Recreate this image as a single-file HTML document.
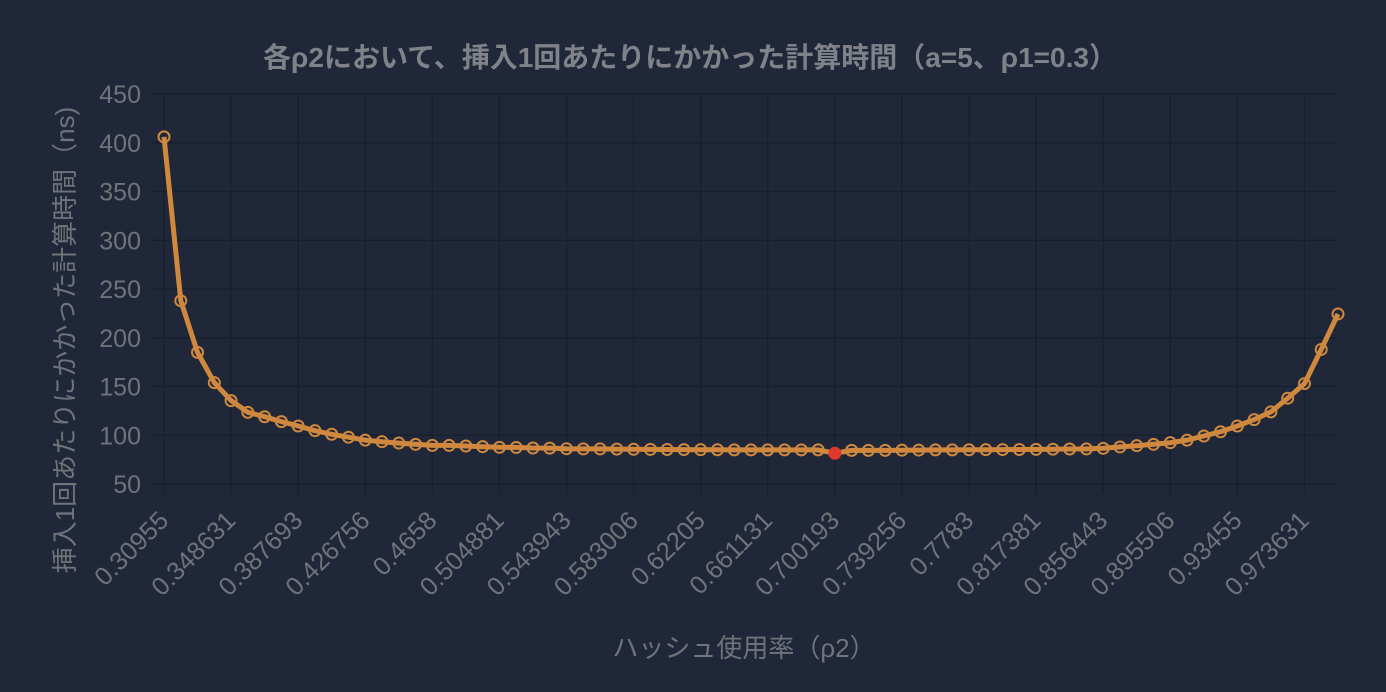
<!DOCTYPE html>
<html><head><meta charset="utf-8"><style>
html,body{margin:0;padding:0;background:#1f2738;}
svg{display:block;font-family:"Liberation Sans","Noto Sans CJK JP",sans-serif;}
</style></head><body>
<svg id="chart" width="1386" height="692">
<rect width="1386" height="692" fill="#1f2738"/>
<g id="grid"></g><g id="axes"></g><g id="series"></g>
<text x="690" y="67" text-anchor="middle" font-size="28" font-weight="bold" fill="#7f8288">各ρ2において、挿入1回あたりにかかった計算時間（a=5、ρ1=0.3）</text>
<text transform="translate(74,340) rotate(-90)" text-anchor="middle" font-size="26" fill="#6f737a">挿入1回あたりにかかった計算時間（ns)</text>
<text x="744" y="657" text-anchor="middle" font-size="26" fill="#6f737a">ハッシュ使用率（ρ2）</text>
</svg>
<script>
const values=[406,238,185,154,135.5,123.5,119,114,109.5,104.7,101,98,95,93.4,92,90.7,89.6,89.6,89,88.3,87.6,87.5,86.9,86.8,86.2,86,86,85.8,85.6,85.5,85.4,85.3,85.2,85.1,85,85,85,85,85,85,81.5,84.5,84.5,84.5,84.7,84.8,85,85,85.1,85.2,85.3,85.4,85.5,85.7,85.9,86,86.6,88,89.3,90.7,92.4,95,99.2,103.6,109.5,116,124,138,153,188,224.4];
const xLabels=["0.30955","0.348631","0.387693","0.426756","0.4658","0.504881","0.543943","0.583006","0.62205","0.661131","0.700193","0.739256","0.7783","0.817381","0.856443","0.895506","0.93455","0.973631"];
const labelEvery=4;
const yTicks=[50,100,150,200,250,300,350,400,450];
const highlightIndex=40;
const NS='http://www.w3.org/2000/svg';
const X0=164,X1=1338,Y0=484,Y1=94,YMIN=50,YMAX=450;
const x=i=>X0+(X1-X0)*i/(values.length-1);
const y=v=>Y0-(v-YMIN)/(YMAX-YMIN)*(Y0-Y1);
function mk(t,a,p){const e=document.createElementNS(NS,t);for(const k in a)e.setAttribute(k,a[k]);p.appendChild(e);return e;}
const grid=document.getElementById('grid'),axes=document.getElementById('axes'),ser=document.getElementById('series');
yTicks.forEach(t=>{
 const l=mk('line',{x1:150,x2:X1,y1:y(t),y2:y(t),stroke:'#182030','stroke-width':1.5},grid);
 
 
 const tx=mk('text',{x:141,y:y(t)+9,'text-anchor':'end','font-size':25,fill:'#6f737a'},axes);
 tx.textContent=t;
 
 
});
xLabels.forEach((lab,j)=>{
 const xi=x(j*labelEvery);
 const l=mk('line',{x1:xi,x2:xi,y1:Y1,y2:Y0+10,stroke:'#182030','stroke-width':1.5},grid);
 
 
 const tx=mk('text',{transform:`translate(${xi+6},${Y0+38}) rotate(-45)`,'text-anchor':'end','font-size':25.5,fill:'#6f737a'},axes);
 tx.textContent=lab;
 
 
});
const pts=values.map((v,i)=>x(i).toFixed(1)+','+y(v).toFixed(1)).join(' ');
const pl=mk('polyline',{points:pts,fill:'none',stroke:'#d0883e','stroke-width':5,'stroke-linejoin':'round'},ser);


values.forEach((v,i)=>{
 const hi=i===highlightIndex;
 const c=mk('circle',{cx:x(i),cy:y(v),r:5.5,fill:hi?'#e0382a':'none',stroke:hi?'#e0382a':'#d0883e','stroke-width':2},ser);
 
 
});
</script>
</body></html>
